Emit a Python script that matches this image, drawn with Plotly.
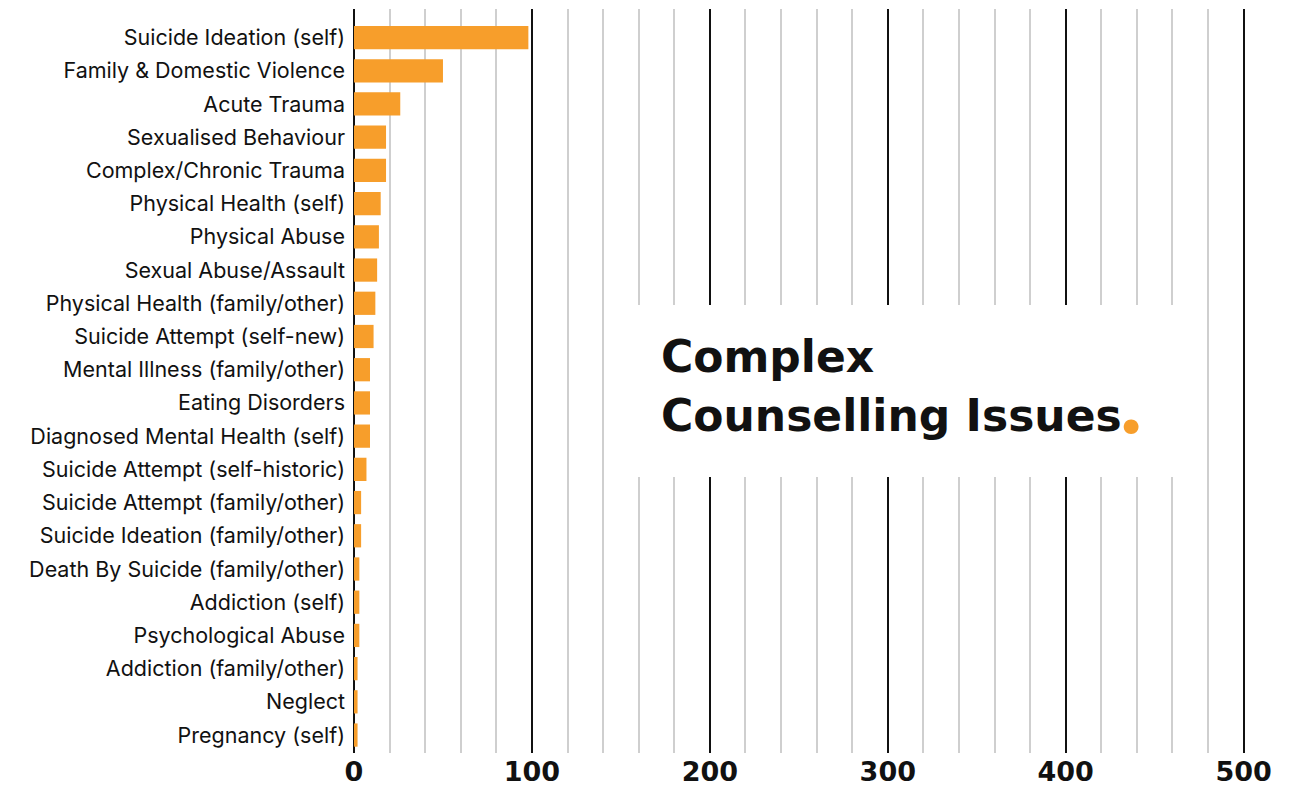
import plotly.graph_objects as go

# Complex counselling issues, counts per issue (sorted high to low)
issues = [
    "Suicide Ideation (self)",
    "Family & Domestic Violence",
    "Acute Trauma",
    "Sexualised Behaviour",
    "Complex/Chronic Trauma",
    "Physical Health (self)",
    "Physical Abuse",
    "Sexual Abuse/Assault",
    "Physical Health (family/other)",
    "Suicide Attempt (self-new)",
    "Mental Illness (family/other)",
    "Eating Disorders",
    "Diagnosed Mental Health (self)",
    "Suicide Attempt (self-historic)",
    "Suicide Attempt (family/other)",
    "Suicide Ideation (family/other)",
    "Death By Suicide (family/other)",
    "Addiction (self)",
    "Psychological Abuse",
    "Addiction (family/other)",
    "Neglect",
    "Pregnancy (self)",
]
counts = [98, 50, 26, 18, 18, 15, 14, 13, 12, 11, 9, 9, 9, 7, 4, 4, 3, 3, 3, 2, 2, 2]

x_ticks = [0, 100, 200, 300, 400, 500]

ORANGE = "#F79E2B"
BLACK = "#111111"
GRID = "#CFCFCF"
HEAD_FAMILY = "DejaVu Sans"

fig = go.Figure(
    go.Bar(
        x=counts,
        y=issues,
        orientation="h",
        marker=dict(color=ORANGE, line=dict(width=0)),
        hoverinfo="x+y",
    )
)

fig.update_layout(
    width=1303,
    height=787,
    margin=dict(l=354, r=54, t=9, b=34),
    paper_bgcolor="white",
    plot_bgcolor="white",
    bargap=0.3,
    showlegend=False,
    font=dict(family="Inter", color=BLACK),
)

fig.update_xaxes(
    range=[0, 503],
    automargin=False,
    tickvals=x_ticks,
    ticktext=[str(v) for v in x_ticks],
    showgrid=True,
    gridcolor=BLACK,
    gridwidth=2,
    zeroline=True,
    zerolinecolor=BLACK,
    zerolinewidth=2,
    showline=False,
    ticks="",
    tickfont=dict(family=HEAD_FAMILY, size=27, color=BLACK, weight=700),
    minor=dict(dtick=20, tick0=0, showgrid=True, gridcolor=GRID, gridwidth=2),
)

fig.update_yaxes(
    type="category",
    categoryorder="array",
    categoryarray=issues,
    range=[21.54, -0.86],
    automargin=False,
    showgrid=False,
    zeroline=False,
    showline=False,
    ticks="",
    ticklabelstandoff=8,
    tickfont=dict(family="Inter", size=21.5, color=BLACK),
)

# White panel behind the heading
fig.add_shape(
    type="rect",
    xref="x",
    yref="paper",
    x0=149.5,
    x1=470,
    y0=0.371,
    y1=0.602,
    fillcolor="white",
    line=dict(width=0),
    layer="above",
)

heading_font = dict(family=HEAD_FAMILY, size=44, color=BLACK, weight=700)
fig.add_annotation(
    xref="x",
    yref="paper",
    x=171.5,
    y=0.5336,
    xanchor="left",
    yanchor="middle",
    text="Complex",
    showarrow=False,
    font=heading_font,
)
fig.add_annotation(
    xref="x",
    yref="paper",
    x=171.5,
    y=0.453,
    xanchor="left",
    yanchor="middle",
    text="Counselling Issues",
    showarrow=False,
    font=heading_font,
)
# Orange full stop closing the heading
fig.add_annotation(
    xref="x",
    yref="paper",
    x=436.7,
    y=0.4704,
    xanchor="center",
    yanchor="middle",
    text=".",
    showarrow=False,
    font=dict(family="Inter", size=80, color=ORANGE, weight=800),
)

fig.write_html("out.html")
